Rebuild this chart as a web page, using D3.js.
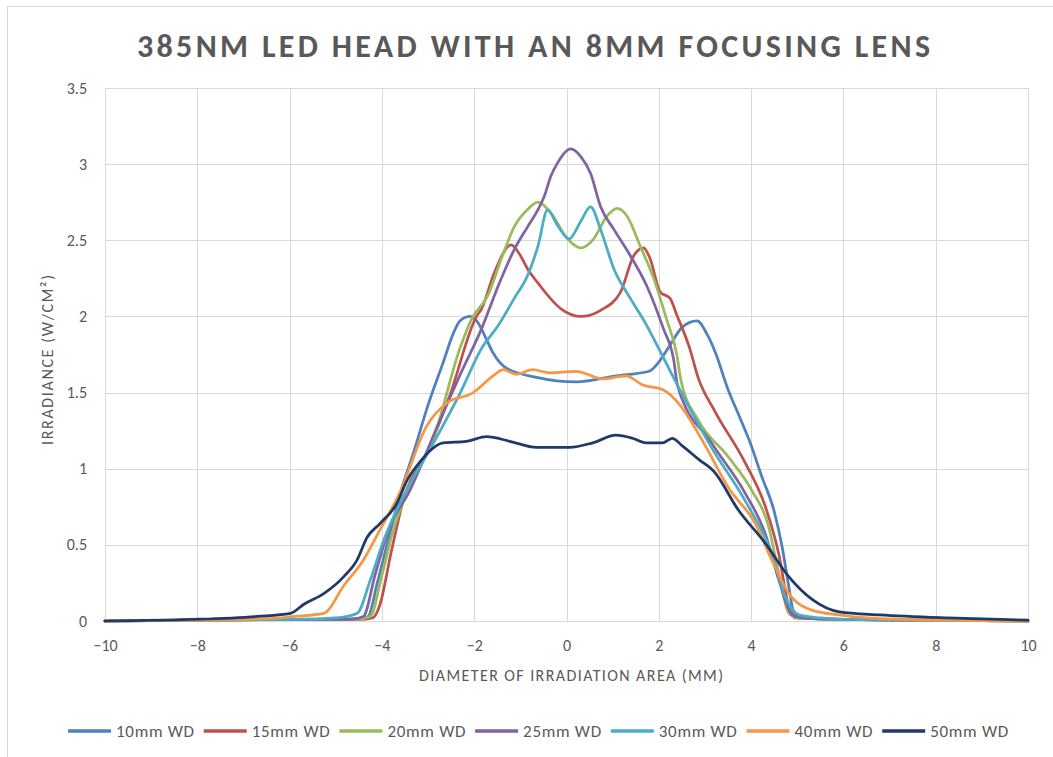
<!DOCTYPE html>
<html>
<head>
    <meta charset="utf-8">
    <title>385nm LED Head with an 8mm Focusing Lens</title>
    <script src="https://d3js.org/d3.v7.min.js"></script>
    <style>
        body { margin: 0; background: #fff; }
        text { font-family: Carlito, Lato, "Open Sans", sans-serif; fill: #595959; }
        .grid line { stroke: #D9D9D9; stroke-width: 1; }
        .series { fill: none; stroke-width: 2.75; stroke-linejoin: round; stroke-linecap: round; }
    </style>
</head>
<body>
    <div id="chart"></div>
    <script>
        // data: [diameter mm, irradiance W/cm2]
        const wd10 = [[-10,0],[-8,0.005],[-6,0.01],[-5,0.01],[-4.5,0.015],[-4.3,0.03],[-4.1,0.25],[-3.85,0.55],[-3.6,0.84],[-3.3,1.12],[-3.03,1.39],[-2.67,1.7],[-2.45,1.89],[-2.31,1.97],[-2.09,2.0],[-1.9,1.95],[-1.75,1.86],[-1.59,1.76],[-1.3,1.66],[-0.65,1.6],[0.21,1.57],[1.07,1.61],[1.79,1.64],[2.0,1.7],[2.22,1.8],[2.51,1.93],[2.83,1.97],[3.05,1.88],[3.23,1.76],[3.5,1.52],[3.75,1.34],[3.98,1.17],[4.23,0.95],[4.5,0.72],[4.67,0.49],[4.82,0.22],[4.93,0.05],[5.1,0.02],[6,0.01],[8,0.005],[10,0]];
        const wd15 = [[-10,0],[-8,0.005],[-6,0.01],[-4.5,0.01],[-4.2,0.02],[-4.05,0.1],[-3.8,0.45],[-3.53,0.8],[-3.03,1.1],[-2.53,1.48],[-1.95,2.0],[-1.84,2.05],[-1.56,2.29],[-1.2,2.47],[-1.0,2.4],[-0.84,2.31],[-0.62,2.22],[-0.12,2.05],[0.31,2.0],[0.74,2.04],[1.17,2.16],[1.46,2.4],[1.67,2.45],[1.81,2.38],[2.03,2.16],[2.24,2.12],[2.39,2.01],[2.67,1.79],[2.85,1.6],[3.21,1.38],[3.87,1.04],[4.31,0.75],[4.6,0.44],[4.82,0.09],[4.96,0.02],[6,0.01],[8,0.005],[10,0]];
        const wd20 = [[-10,0],[-8,0.005],[-6,0.01],[-4.6,0.01],[-4.25,0.03],[-4.0,0.3],[-3.75,0.6],[-3.46,0.84],[-2.88,1.2],[-2.31,1.79],[-2.06,1.98],[-1.7,2.14],[-1.41,2.38],[-1.13,2.59],[-0.85,2.7],[-0.62,2.75],[-0.34,2.68],[0.02,2.51],[0.31,2.45],[0.59,2.51],[0.88,2.66],[1.1,2.71],[1.31,2.66],[1.6,2.46],[1.89,2.25],[2.17,1.98],[2.39,1.75],[2.48,1.58],[2.85,1.32],[3.5,1.08],[4.01,0.86],[4.38,0.62],[4.6,0.31],[4.82,0.05],[5.0,0.02],[6,0.01],[8,0.005],[10,0]];
        const wd25 = [[-10,0],[-8,0.005],[-6,0.01],[-4.7,0.01],[-4.4,0.03],[-4.15,0.3],[-3.85,0.6],[-3.39,0.86],[-2.74,1.32],[-2.3,1.62],[-1.84,1.92],[-1.48,2.2],[-1.13,2.44],[-0.84,2.59],[-0.62,2.7],[-0.48,2.79],[-0.34,2.92],[-0.19,3.01],[0.09,3.1],[0.31,3.05],[0.52,2.94],[0.74,2.72],[1.03,2.57],[1.38,2.4],[1.74,2.2],[2.1,1.92],[2.32,1.72],[2.41,1.54],[3.14,1.17],[3.87,0.84],[4.31,0.57],[4.6,0.27],[4.89,0.04],[5.1,0.02],[6,0.01],[8,0.005],[10,0]];
        const wd30 = [[-10,0],[-8,0.005],[-6,0.01],[-5,0.02],[-4.54,0.05],[-4.25,0.27],[-3.96,0.53],[-3.55,0.81],[-2.88,1.17],[-2.3,1.5],[-1.84,1.79],[-1.48,1.94],[-1.13,2.12],[-0.84,2.27],[-0.62,2.46],[-0.41,2.7],[-0.2,2.6],[0.06,2.51],[0.3,2.62],[0.52,2.72],[0.74,2.57],[1.03,2.31],[1.38,2.12],[1.74,1.94],[2.03,1.77],[2.54,1.47],[3.14,1.14],[3.87,0.79],[4.45,0.44],[4.74,0.16],[5.04,0.04],[5.5,0.02],[6,0.01],[8,0.005],[10,0]];
        const wd40 = [[-10,0],[-8,0.005],[-6.5,0.015],[-5.9,0.03],[-5.26,0.05],[-4.83,0.23],[-4.4,0.4],[-4.04,0.6],[-3.6,0.85],[-3.03,1.28],[-2.6,1.43],[-2.02,1.5],[-1.59,1.61],[-1.37,1.65],[-1.09,1.62],[-0.73,1.65],[-0.37,1.63],[0.21,1.64],[0.78,1.59],[1.29,1.61],[1.65,1.55],[2.08,1.52],[2.48,1.41],[2.86,1.23],[3.1,1.1],[3.5,0.88],[4.09,0.64],[4.45,0.4],[4.82,0.18],[5.33,0.07],[5.91,0.04],[6.5,0.02],[8,0.005],[10,0]];
        const wd50 = [[-10,0],[-8.15,0.01],[-6.7,0.03],[-5.98,0.05],[-5.69,0.11],[-5.26,0.18],[-4.83,0.29],[-4.54,0.4],[-4.32,0.55],[-4.04,0.64],[-3.68,0.77],[-3.46,0.92],[-3.24,1.02],[-2.67,1.17],[-2.17,1.18],[-1.73,1.21],[-1.23,1.18],[-0.65,1.14],[0.06,1.14],[0.57,1.17],[1.07,1.22],[1.43,1.2],[1.72,1.17],[2.08,1.17],[2.29,1.2],[2.51,1.15],[2.87,1.06],[3.2,0.98],[3.72,0.73],[4.31,0.51],[4.82,0.29],[5.33,0.14],[5.91,0.06],[6.79,0.04],[8.25,0.02],[10,0.005]];

        const seriesNames = ["10mm WD", "15mm WD", "20mm WD", "25mm WD", "30mm WD", "40mm WD", "50mm WD"];
        const seriesData = [wd10, wd15, wd20, wd25, wd30, wd40, wd50];
        const colors = ["#4F81BD", "#C0504D", "#9BBB59", "#8064A2", "#4BACC6", "#F79646", "#1F3A68"];
        const xTicks = [-10, -8, -6, -4, -2, 0, 2, 4, 6, 8, 10];
        const yTicks = [0, 0.5, 1, 1.5, 2, 2.5, 3, 3.5];

        const width = 1053, height = 757;
        const plot = { left: 105, right: 1028, top: 88, bottom: 621 };

        const svg = d3.select("#chart").append("svg")
            .attr("width", width)
            .attr("height", height);

        // chart border (only top/left edges are inside the picture)
        svg.append("rect")
            .attr("x", 7.5).attr("y", 6.5)
            .attr("width", width + 20).attr("height", height + 20)
            .attr("fill", "none").attr("stroke", "#D9D9D9");

        const x = d3.scaleLinear().domain([-10, 10]).range([plot.left, plot.right]);
        const y = d3.scaleLinear().domain([0, 3.5]).range([plot.bottom, plot.top]);

        // gridlines
        const grid = svg.append("g").attr("class", "grid");
        grid.selectAll(".v").data(xTicks).enter().append("line")
            .attr("x1", d => Math.round(x(d)) + 0.5).attr("x2", d => Math.round(x(d)) + 0.5)
            .attr("y1", plot.top).attr("y2", plot.bottom);
        grid.selectAll(".h").data(yTicks).enter().append("line")
            .attr("x1", plot.left).attr("x2", plot.right)
            .attr("y1", d => Math.round(y(d)) + 0.5).attr("y2", d => Math.round(y(d)) + 0.5);

        // axes (labels only, Excel style)
        const xAxis = svg.append("g")
            .attr("transform", `translate(0,${plot.bottom})`)
            .call(d3.axisBottom(x).tickValues(xTicks).tickSize(0).tickPadding(19));
        const yAxis = svg.append("g")
            .attr("transform", `translate(${plot.left},0)`)
            .call(d3.axisLeft(y).tickValues(yTicks).tickSize(0).tickPadding(18).tickFormat(d => d));
        [xAxis, yAxis].forEach(a => {
            a.select(".domain").remove();
            a.selectAll("text").style("font-size", "16px").attr("fill", "#666")
                .style("font-family", "Carlito, Lato, 'Open Sans', sans-serif");
        });

        // series
        const line = d3.line()
            .x(d => x(d[0]))
            .y(d => y(d[1]))
            .curve(d3.curveMonotoneX);
        svg.append("g").selectAll("path")
            .data(seriesData)
            .enter().append("path")
            .attr("class", "series")
            .attr("stroke", (d, i) => colors[i])
            .attr("d", line);

        // squeeze or spread text to a target width
        function fitText(sel, target) {
            const t = sel.node();
            const n = t.getNumberOfChars();
            const w = t.getComputedTextLength();
            sel.attr("letter-spacing", ((target - w) / Math.max(n - 1, 1)).toFixed(2));
        }

        const title = svg.append("text")
            .attr("x", 137).attr("y", 57)
            .style("font-size", "32px").style("font-weight", "bold")
            .text("385NM LED HEAD WITH AN 8MM FOCUSING LENS");
        fitText(title, 793);

        const xTitle = svg.append("text")
            .attr("x", 419).attr("y", 681)
            .style("font-size", "16px")
            .text("DIAMETER OF IRRADIATION AREA (MM)");
        fitText(xTitle, 304);

        const yTitle = svg.append("text")
            .attr("transform", "translate(53,445) rotate(-90)")
            .style("font-size", "16px")
            .text("IRRADIANCE (W/CM²)");
        fitText(yTitle, 170);

        // legend
        const legend = svg.append("g").selectAll("g")
            .data(seriesNames)
            .enter().append("g")
            .attr("transform", (d, i) => `translate(${68 + i * 135.7},731)`);
        legend.append("line")
            .attr("x1", 0).attr("x2", 43)
            .attr("stroke", (d, i) => colors[i])
            .attr("stroke-width", 3.5);
        legend.append("text")
            .attr("x", 48).attr("y", 6)
            .style("font-size", "17px")
            .text(d => d)
            .each(function () { fitText(d3.select(this), 78); });
    </script>
</body>
</html>
